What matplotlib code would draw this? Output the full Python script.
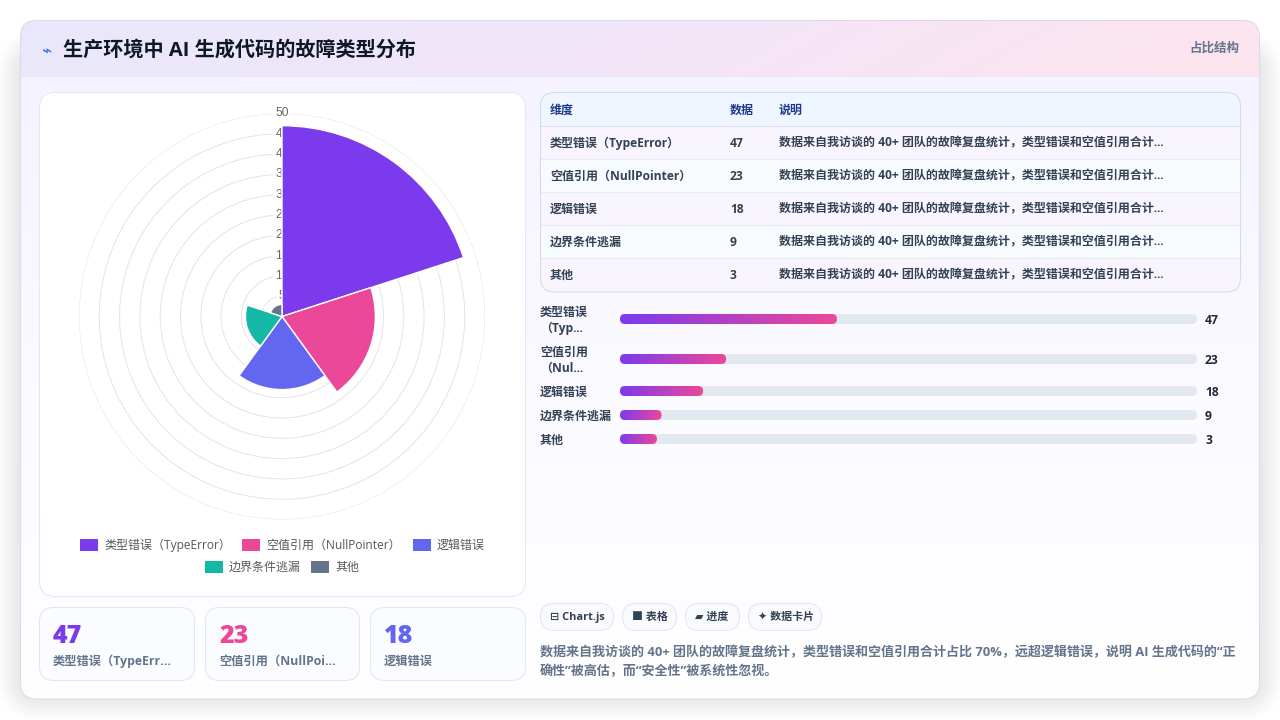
import numpy as np
import matplotlib
matplotlib.use('Agg')
import matplotlib.pyplot as plt
from matplotlib.colors import LinearSegmentedColormap
from matplotlib.patches import FancyBboxPatch, Rectangle

plt.rcParams['font.family'] = ['Open Sans', 'Noto Sans CJK SC', 'DejaVu Sans']

# data
categories = ['类型错误（TypeError）', '空值引用（NullPointer）', '逻辑错误', '边界条件逃漏', '其他']
values = [47, 23, 18, 9, 3]
colors = ['#7c3aed', '#ec4899', '#6366f1', '#14b8a6', '#64748b']
radial_ticks = [5, 10, 15, 20, 25, 30, 35, 40, 45, 50]
table_head = ['维度', '数据', '说明']
table_note = '数据来自我访谈的 40+ 团队的故障复盘统计，类型错误和空值引用合计...'
bar_labels = [['类型错误', '（Typ...'], ['空值引用', '（Nul...'], ['逻辑错误'], ['边界条件逃漏'], ['其他']]
bar_scale_max = 125
bar_min_value = 8
card_labels = ['类型错误（TypeErr...', '空值引用（NullPoi...', '逻辑错误']
chips = ['⊟ Chart.js', '■ 表格', '▰ 进度', '✦ 数据卡片']
title = '生产环境中 AI 生成代码的故障类型分布'
caption = ['数据来自我访谈的 40+ 团队的故障复盘统计，类型错误和空值引用合计占比 70%，远超逻辑错误，说明 AI 生成代码的“正',
           '确性”被高估，而“安全性”被系统性忽视。']

fig = plt.figure(figsize=(12.8, 7.2), dpi=100, facecolor='#ffffff')

# whole page in pixel coordinates
bg = fig.add_axes([0, 0, 1, 1])
bg.set_xlim(0, 1280)
bg.set_ylim(720, 0)
bg.axis('off')


def rbox(ax, x0, y0, x1, y1, r, fc='white', ec='none', lw=0.75, z=1, alpha=None):
    p = FancyBboxPatch((x0 + r, y0 + r), x1 - x0 - 2 * r, y1 - y0 - 2 * r,
                       boxstyle='round,pad=%f,rounding_size=%f' % (r, r),
                       fc=fc, ec=ec, lw=lw, zorder=z, alpha=alpha)
    ax.add_patch(p)
    return p


def label(x, y, s, size, color, weight='normal', ha='left', z=10, **kw):
    # text sits a little high with these fonts
    return bg.text(x, y + 1.2, s, fontsize=size * 0.72, color=color, weight=weight, ha=ha,
                   va='center', zorder=z, **kw)


# soft card shadow, stronger below the card
for i in range(30):
    rbox(bg, 26 - i, 60 - i, 1254 + i, 692 + i, 16 + i, fc='#0f172a', z=0.1, alpha=0.0026)

# card body and header
card = rbox(bg, 20.5, 20.5, 1259.5, 699, 16, fc='white', z=1)
body_cmap = LinearSegmentedColormap.from_list('b', ['#f5f3ff', '#fbfaff', '#ffffff'])
im = bg.imshow(np.linspace(0, 1, 256)[:, None], extent=(20, 1260, 699, 76), cmap=body_cmap,
               aspect='auto', zorder=1.1)
im.set_clip_path(card)
head_cmap = LinearSegmentedColormap.from_list('h', ['#e9e8fc', '#f2e6f8', '#fce4ef'])
gx, gy = np.meshgrid(np.linspace(0, 1, 256), np.linspace(0, 0.08, 16))
im = bg.imshow(np.clip(gx + gy, 0, 1), extent=(20, 1260, 76, 20), cmap=head_cmap,
               aspect='auto', zorder=1.2)
im.set_clip_path(card)
bg.plot([20, 1260], [76, 76], color='#ebe8f8', lw=0.75, zorder=1.3)
rbox(bg, 20.5, 20.5, 1259.5, 699, 16, fc='none', ec='#dcd9f3', z=1.4)
bg.set_xlim(0, 1280)
bg.set_ylim(720, 0)

label(47, 50, '⌁', 17, '#3b6fe0', 'bold', ha='center')
label(63, 49, title, 20.2, '#0f172a', 'bold')
label(1239, 47.5, '占比结构', 12.5, '#64748b', 'bold', ha='right')

# chart panel
rbox(bg, 39.5, 92.5, 525.5, 596.5, 16, fc='white', ec='#e4e8f6', z=2)

# polar area chart
cx, cy, rad = 282, 316.5, 203
ax = fig.add_axes([(cx - rad) / 1280, 1 - (cy + rad) / 720, 2 * rad / 1280, 2 * rad / 720],
                  projection='polar', zorder=3)
ax.patch.set_alpha(0)
ax.set_theta_zero_location('N')
ax.set_theta_direction(-1)
step = 2 * np.pi / len(values)
ax.bar([i * step for i in range(len(values))], values, width=step, align='edge', color=colors,
       edgecolor='white', linewidth=1.0, zorder=5)
ax.set_ylim(0, radial_ticks[-1])
ax.set_yticks(radial_ticks)
ax.set_yticklabels([])
ax.set_xticks([])
ax.spines['polar'].set_visible(False)
ax.grid(True, color='#e4e4e4', lw=0.72)
ax.set_axisbelow(True)
for t in radial_ticks:
    ax.text(0, t, str(t), fontsize=12 * 0.72, family='Liberation Sans', color='#666666', ha='center',
            va='center', zorder=3, clip_on=False,
            bbox=dict(fc='white', ec='none', pad=1.5))

# chart legend, two centred rows
legend_rows = [(80, 104, 545, 0), (242, 266, 545, 1), (413, 437, 545, 2), (205, 229, 567, 3), (311, 335, 567, 4)]
for sx, tx, ly, k in legend_rows:
    bg.add_patch(Rectangle((sx, ly - 6), 18, 12, fc=colors[k], ec='none', zorder=5))
    label(tx, ly - 0.5, categories[k], 12, '#585858')

# stat cards
card_x = [(39.5, 194.5), (205.5, 359.5), (370.5, 525.5)]
for (x0, x1), v, s, c in zip(card_x, values, card_labels, colors):
    rbox(bg, x0, 607.5, x1, 680.5, 14, fc='#fbfcff', ec='#dde7f7', z=2)
    label(x0 + 13.5, 635, str(v), 25, c, 'black')
    label(x0 + 13.5, 660, s, 12.2, '#64748b', 'bold')

# table
tbl_x0, tbl_x1, tbl_y0, row_h = 540.5, 1240.5, 92.5, 33
tbl = rbox(bg, tbl_x0, tbl_y0, tbl_x1, 292, 14, fc='#f8f7fe', z=2)
r = Rectangle((tbl_x0, tbl_y0), tbl_x1 - tbl_x0, row_h, fc='#eff6ff', ec='none', zorder=2.1)
bg.add_patch(r)
r.set_clip_path(tbl)
for i in range(len(values)):
    y0 = tbl_y0 + row_h * (i + 1)
    r = Rectangle((tbl_x0, y0), tbl_x1 - tbl_x0, row_h, fc='#f8f5fe' if i % 2 == 0 else '#f8fbfd',
                  ec='none', zorder=2.1)
    bg.add_patch(r)
    r.set_clip_path(tbl)
    bg.plot([tbl_x0, tbl_x1], [y0, y0], color='#d9e1ee' if i == 0 else '#e6ebf3', lw=0.75, zorder=2.2)
    yc = y0 + row_h / 2
    label(550, yc, categories[i], 12, '#334155', 'bold')
    label(730, yc, str(values[i]), 12, '#334155', 'bold')
    label(779, yc, table_note, 12.03, '#334155', 'bold')
rbox(bg, tbl_x0, tbl_y0, tbl_x1, 292, 14, fc='none', ec='#d3dbe8', z=2.3)
for x, s in zip((550, 730, 779), table_head):
    label(x, 109, s, 12, '#1e3a8a', 'bold')

# progress bars
track_x0, track_x1, bars_top, bars_bot = 620, 1197, 305, 450
bar_y = [319, 359, 391, 415, 439]
bax = fig.add_axes([track_x0 / 1280, 1 - bars_bot / 720, (track_x1 - track_x0) / 1280,
                    (bars_bot - bars_top) / 720], zorder=3)
bax.axis('off')
bax.patch.set_alpha(0)
px_per_unit = (track_x1 - track_x0) / bar_scale_max
cap = 5 / px_per_unit
fill_cmap = LinearSegmentedColormap.from_list('f', ['#7c3aed', '#ec4899'])
for y, v in zip(bar_y, values):
    for w, kind in ((bar_scale_max, 'track'), (max(v, bar_min_value), 'fill')):
        p = FancyBboxPatch((cap, y - 0), w - 2 * cap, 0, boxstyle='round,pad=%f,rounding_size=%f' % (cap, cap),
                           mutation_aspect=px_per_unit,
                           fc='#e2e8f0' if kind == 'track' else 'none', ec='none', zorder=2)
        bax.add_patch(p)
        if kind == 'fill':
            im = bax.imshow(np.linspace(0, 1, 128)[None, :], extent=(0, w, y + 5, y - 5), cmap=fill_cmap,
                            aspect='auto', zorder=3)
            im.set_clip_path(p)
bax.set_xlim(0, bar_scale_max)
bax.set_ylim(bars_bot, bars_top)

for y, lines, v in zip(bar_y, bar_labels, values):
    if len(lines) == 2:
        label(540, y - 8, lines[0], 12, '#334155', 'bold')
        label(540, y + 8.5, lines[1], 12, '#334155', 'bold')
    else:
        label(540, y, lines[0], 12, '#334155', 'bold')
    label(1205, y, str(v), 12, '#1e293b', 'bold')

# chips
chip_x = [(540.5, 613.5, 550), (622.5, 676.5, 632), (685.5, 739.5, 695), (748.5, 821.5, 758)]
for (x0, x1, tx), s in zip(chip_x, chips):
    rbox(bg, x0, 603.5, x1, 630.5, 13.5, fc='#f8fafc', ec='#e2e8f0', z=2)
    label(tx, 616.5, s, 11, '#334155', 'bold')

# caption
label(540, 651, caption[0], 13.05, '#64748b', 'bold')
label(540, 670, caption[1], 13.05, '#64748b', 'bold')

fig.savefig('out.png', dpi=100)
